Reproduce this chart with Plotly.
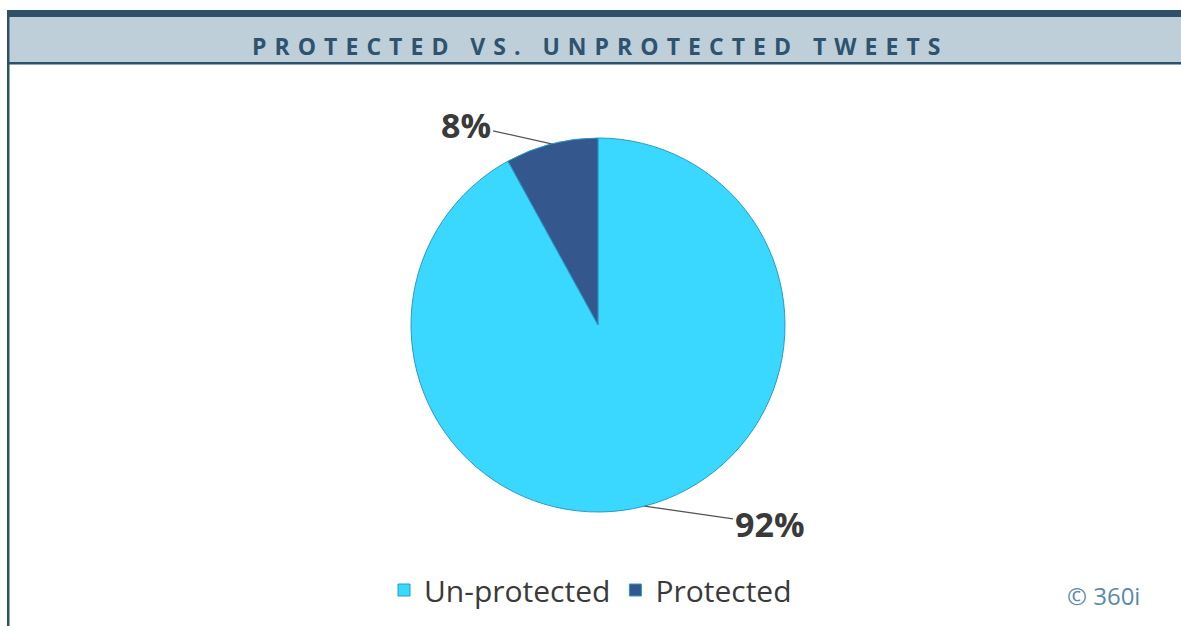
import math
import plotly.graph_objects as go

labels = ["Un-protected", "Protected"]
values = [92, 8]
colors = ["#3AD8FF", "#34578E"]
title_text = "PROTECTED VS. UNPROTECTED TWEETS"
credit = "© 360i"

W, H = 1181, 626
dom_x = [411 / W, 785 / W]
dom_y = [1 - 512 / H, 1 - 138 / H]

fig = go.Figure()
fig.add_trace(go.Pie(
    labels=labels, values=values, sort=False, direction="clockwise", rotation=0,
    marker=dict(colors=colors, line=dict(color="#2A9AC4", width=1)),
    textinfo="none", hoverinfo="label+percent",
    domain=dict(x=dom_x, y=dom_y), showlegend=True,
))

# geometry for leader labels, computed from the data
cx = (dom_x[0] + dom_x[1]) / 2 * W
cy = (1 - (dom_y[0] + dom_y[1]) / 2) * H
r = min((dom_x[1] - dom_x[0]) * W, (dom_y[1] - dom_y[0]) * H) / 2
total = sum(values)
cum = 0
offsets = [(125, 18), (-85, -19)]
for v, off in zip(values, offsets):
    mid = (cum + v / 2) / total * 2 * math.pi
    cum += v
    px = cx + r * math.sin(mid)
    py = cy - r * math.cos(mid)
    fig.add_annotation(
        x=px / W, y=1 - py / H, xref="paper", yref="paper",
        text=f"<b>{round(v / total * 100)}%</b>",
        showarrow=True, arrowhead=0, arrowwidth=1.3, arrowcolor="#555555",
        ax=off[0], ay=off[1], standoff=0,
        font=dict(family="Open Sans, sans-serif", size=34, color="#3A3A3A"),
    )

# header band and frame
shapes = [
    dict(type="rect", xref="paper", yref="paper", x0=7 / W, x1=1, y0=1 - 63 / H, y1=1 - 17 / H,
         fillcolor="#BFCFDA", line=dict(width=0), layer="below"),
    dict(type="rect", xref="paper", yref="paper", x0=7 / W, x1=1, y0=1 - 17 / H, y1=1 - 10 / H,
         fillcolor="#2E5068", line=dict(width=0)),
    dict(type="rect", xref="paper", yref="paper", x0=7 / W, x1=1, y0=1 - 64.5 / H, y1=1 - 62 / H,
         fillcolor="#2E5068", line=dict(width=0)),
    dict(type="rect", xref="paper", yref="paper", x0=7 / W, x1=9.5 / W, y0=0, y1=1 - 10 / H,
         fillcolor="#2E5068", line=dict(width=0)),
]

sep = "\u2005\u200a"
spaced = (sep + "\u2005" + sep).join(sep.join(list(w)) for w in title_text.split(" "))
fig.add_annotation(
    x=596 / W, y=1 - 46 / H, xref="paper", yref="paper", showarrow=False,
    xanchor="center", yanchor="middle",
    text=f"<b>{spaced}</b>",
    font=dict(family="Open Sans, sans-serif", size=23, color="#2E536E"),
)
fig.add_annotation(
    x=1103 / W, y=1 - 595 / H, xref="paper", yref="paper", showarrow=False,
    xanchor="center", yanchor="middle",
    text=credit, font=dict(family="Open Sans, sans-serif", size=24, color="#5B8AA8"),
)

fig.update_layout(
    width=W, height=H, margin=dict(l=0, r=0, t=0, b=0),
    paper_bgcolor="white", plot_bgcolor="white", shapes=shapes,
    legend=dict(orientation="h", x=0.5, xanchor="center", y=1 - 590 / H, yanchor="middle",
                font=dict(family="Open Sans, sans-serif", size=30, color="#3A3A3A"),
                itemwidth=30, tracegroupgap=0),
)

fig.write_html("out.html")
